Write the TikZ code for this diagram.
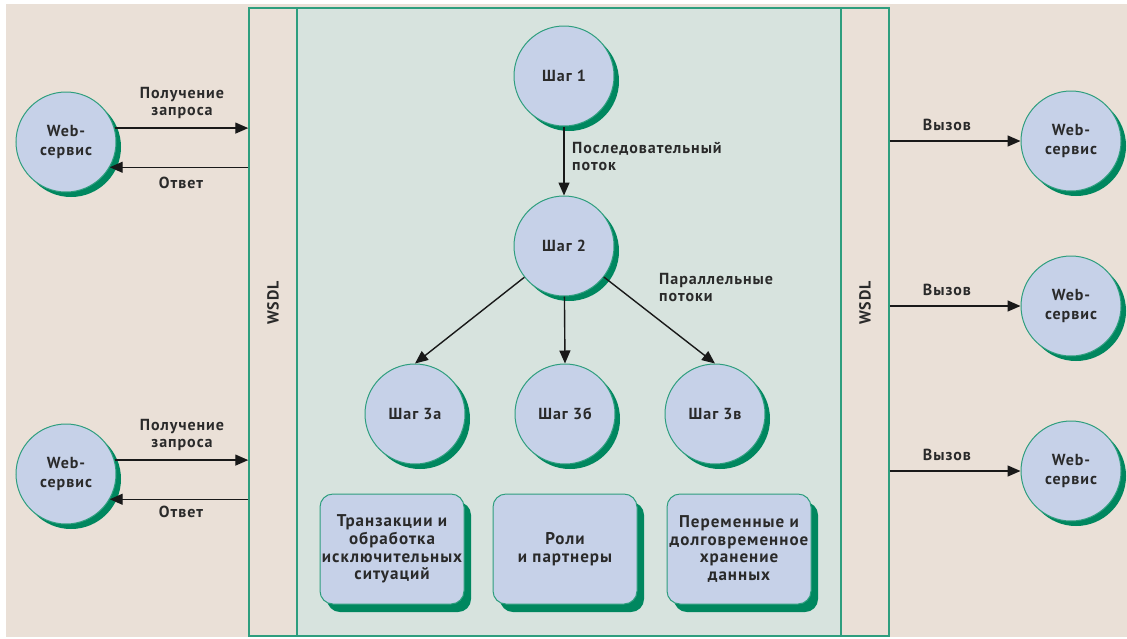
\documentclass[tikz,border=0pt]{standalone}
\usepackage{fontspec}
\setmainfont{PT Sans}[LetterSpace=6]
\usetikzlibrary{arrows.meta,shadows}
\definecolor{bgbeige}{HTML}{EAE0D7}
\definecolor{panel}{HTML}{D7E3DE}
\definecolor{bubble}{HTML}{C6D1E8}
\definecolor{edge}{HTML}{2E9E7E}
\definecolor{shade}{HTML}{00875F}
\definecolor{ink}{HTML}{2A2A2A}
\begin{document}
\begin{tikzpicture}[x=1pt,y=-1pt,
  every node/.style={text=ink, font=\fontsize{16}{17}\selectfont\bfseries},
  bubblenode/.style={circle, minimum size=100pt, inner sep=0pt, fill=bubble,
    draw=edge, line width=1pt, align=center,
    font=\fontsize{16}{19.5}\selectfont\bfseries,
    general shadow={fill=shade, shadow xshift=5pt, shadow yshift=-5pt}},
  panelbox/.style={rectangle, rounded corners=13pt, minimum width=144pt,
    minimum height=110pt, inner sep=0pt, fill=bubble, draw=edge, line width=1pt,
    align=center, font=\fontsize{17}{17.7}\selectfont\bfseries,
    general shadow={fill=shade, shadow xshift=7pt, shadow yshift=-8pt}},
  strip/.style={rectangle, draw=edge, line width=1.5pt, fill=bgbeige,
    minimum width=48pt, minimum height=628pt, inner sep=0pt},
  flow/.style={draw=black!90, line width=1.4pt, -{Triangle[length=13pt,width=11pt]}},
  lbl/.style={align=center, inner sep=0pt}
]
\useasboundingbox (0,0) rectangle (1127,638);
\fill[white] (0,0) rectangle (1127,638);
\fill[bgbeige] (6,4) rectangle (1127,637);

% WSDL strips and the process panel between them
\node[strip] (lstrip) at (273,322) {};
\node[strip] (rstrip) at (865,322) {};
\node[rectangle, fill=panel, draw=edge, line width=1.5pt, minimum width=544pt,
  minimum height=628pt, inner sep=0pt] (core) at (569,322) {};
\node[rotate=90] (lwsdl) at (273,303) {WSDL};
\node[rotate=90] (rwsdl) at (865,303) {WSDL};

% process steps
\node[bubblenode] (s1) at (564,76) {Шаг 1};
\node[bubblenode] (s2) at (564,246) {Шаг 2};
\node[bubblenode] (s3a) at (415,414) {Шаг 3а};
\node[bubblenode] (s3b) at (565,414) {Шаг 3б};
\node[bubblenode] (s3c) at (715,414) {Шаг 3в};

\draw[flow] (s1) -- (s2);
\draw[flow] (s2) -- (s3a.north);
\draw[flow] (s2) -- (s3b.north);
\draw[flow] (s2) -- (s3c.north);
\node[lbl, align=left, anchor=north west] (seq) at (572,142) {Последовательный\\поток};
\node[lbl, align=left, anchor=north west] (par) at (659,273) {Параллельные\\потоки};

% supporting facilities
\node[panelbox] (b1) at (392,549) {Транзакции и\\обработка\\исключительных\\ситуаций};
\node[panelbox] (b2) at (565,549) {Роли\\и партнеры};
\node[panelbox] (b3) at (739,549) {Переменные и\\долговременное\\хранение\\данных};

% client web services
\node[bubblenode] (ws1) at (66,142) {Web-\\сервис};
\node[bubblenode] (ws2) at (66,474) {Web-\\сервис};
\draw[flow] (ws1.16) -- (ws1.16 -| lstrip.west);
\draw[flow] (ws1.-30 -| lstrip.west) -- (ws1.-30);
\draw[flow] (ws2.16) -- (ws2.16 -| lstrip.west);
\draw[flow] (ws2.-30 -| lstrip.west) -- (ws2.-30);
\node[lbl] (rq1) at (182,103) {Получение\\запроса};
\node[lbl] (an1) at (181,183) {Ответ};
\node[lbl] (rq2) at (182,435) {Получение\\запроса};
\node[lbl] (an2) at (181,512) {Ответ};

% invoked web services
\node[bubblenode] (wr1) at (1071,141) {Web-\\сервис};
\node[bubblenode] (wr2) at (1071,306) {Web-\\сервис};
\node[bubblenode] (wr3) at (1071,471) {Web-\\сервис};
\draw[flow] (rstrip.east |- wr1) -- (wr1);
\draw[flow] (rstrip.east |- wr2) -- (wr2);
\draw[flow] (rstrip.east |- wr3) -- (wr3);
\node[lbl] (c1) at (947,125) {Вызов};
\node[lbl] (c2) at (947,290) {Вызов};
\node[lbl] (c3) at (947,455) {Вызов};
\end{tikzpicture}
\end{document}
